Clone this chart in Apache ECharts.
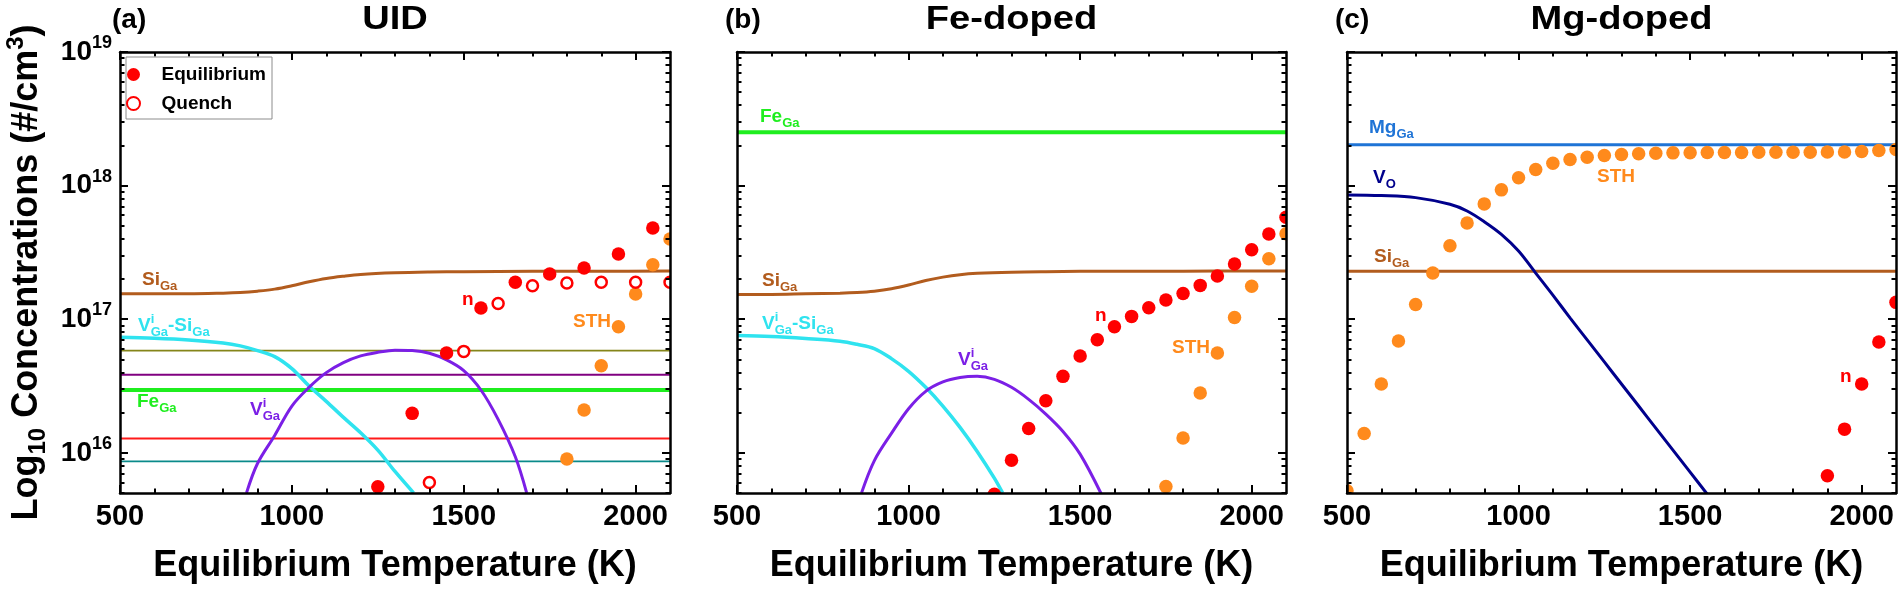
<!DOCTYPE html>
<html>
<head>
<meta charset="utf-8">
<script src="https://cdn.jsdelivr.net/npm/echarts@6/dist/echarts.min.js"></script>
<style>
  html, body { margin: 0; padding: 0; background: #fff; }
  #main { width: 1900px; height: 592px; }
</style>
</head>
<body>
<div id="main"></div>
<script>
// ---- data (y values are log10 of concentration in #/cm3) ----
// temperature grids (K)
const siGaT = [500, 600, 700, 800, 850, 900, 950, 1000, 1050, 1100, 1150, 1200, 1300, 1400, 1500, 1700, 1900, 2100];

// (a) UID
const siGaA = [17.19, 17.19, 17.19, 17.195, 17.2, 17.21, 17.225, 17.25, 17.28, 17.305, 17.322, 17.335, 17.347, 17.353, 17.356, 17.358, 17.359, 17.36];
const vSiTA = [500, 600, 700, 800, 850, 900, 950, 1000, 1050, 1100, 1150, 1200, 1250, 1300, 1354];
const vSiA = [16.865, 16.858, 16.845, 16.822, 16.8, 16.765, 16.72, 16.63, 16.5, 16.385, 16.265, 16.15, 16.02, 15.86, 15.7];
const vGaTA = [868, 900, 950, 1000, 1050, 1100, 1150, 1200, 1250, 1300, 1350, 1400, 1450, 1500, 1550, 1600, 1650, 1683];
const vGaA = [15.7, 15.92, 16.13, 16.35, 16.49, 16.6, 16.675, 16.725, 16.752, 16.768, 16.765, 16.745, 16.695, 16.615, 16.47, 16.25, 15.97, 15.7];
const eqTA = [1250, 1350, 1450, 1550, 1650, 1750, 1850, 1950, 2050];
const eqA = [15.745, 16.295, 16.747, 17.084, 17.276, 17.338, 17.383, 17.488, 17.683];
const quTA = [1400, 1500, 1600, 1700, 1800, 1900, 2000, 2100];
const quA = [15.778, 16.759, 17.118, 17.251, 17.271, 17.276, 17.276, 17.276];
const sthTA = [1800, 1850, 1900, 1950, 2000, 2050, 2100];
const sthA = [15.953, 16.32, 16.652, 16.944, 17.189, 17.408, 17.6];
const levelNamesA = ['Ir', 'Cr', 'Fe', 'Ca', 'Zr'];
const levelsA = [16.764, 16.584, 16.47, 16.107, 15.935];

// (b) Fe-doped
const feB = 18.4;
const siGaB = [17.185, 17.185, 17.19, 17.195, 17.2, 17.21, 17.228, 17.256, 17.29, 17.315, 17.333, 17.343, 17.352, 17.356, 17.358, 17.359, 17.36, 17.36];
const vSiTB = [500, 600, 700, 800, 850, 900, 950, 1000, 1050, 1100, 1150, 1200, 1250, 1274];
const vSiB = [16.877, 16.87, 16.855, 16.835, 16.812, 16.78, 16.705, 16.61, 16.49, 16.35, 16.19, 16.01, 15.81, 15.7];
const vGaTB = [863, 900, 950, 1000, 1050, 1100, 1150, 1200, 1250, 1300, 1350, 1400, 1450, 1500, 1561];
const vGaB = [15.7, 15.94, 16.145, 16.33, 16.46, 16.53, 16.563, 16.572, 16.55, 16.49, 16.4, 16.29, 16.16, 15.99, 15.695];
const nTB = [1250, 1300, 1350, 1400, 1450, 1500, 1550, 1600, 1650, 1700, 1750, 1800, 1850, 1900, 1950, 2000, 2050, 2100];
const nB = [15.69, 15.945, 16.182, 16.39, 16.572, 16.724, 16.846, 16.944, 17.021, 17.086, 17.144, 17.193, 17.253, 17.323, 17.413, 17.52, 17.638, 17.763];
const sthTB = [1750, 1800, 1850, 1900, 1950, 2000, 2050, 2100];
const sthB = [15.748, 16.11, 16.447, 16.747, 17.013, 17.246, 17.453, 17.64];

// (c) Mg-doped
const mgC = 18.305;
const siC = 17.358;
const vOT = [500, 600, 700, 800, 850, 900, 950, 1000, 1050, 1100, 1150, 1200, 1250, 1300, 1350, 1400, 1450, 1500, 1550];
const vOC = [17.93, 17.925, 17.91, 17.86, 17.81, 17.73, 17.635, 17.51, 17.345, 17.18, 17.01, 16.845, 16.68, 16.515, 16.35, 16.185, 16.02, 15.855, 15.69];
const sthTC = [500, 550, 600, 650, 700, 750, 800, 850, 900, 950, 1000, 1050, 1100, 1150, 1200, 1250, 1300, 1350, 1400, 1450, 1500, 1550, 1600, 1650, 1700, 1750, 1800, 1850, 1900, 1950, 2000, 2050, 2100];
const sthC = [15.715, 16.145, 16.515, 16.837, 17.11, 17.346, 17.55, 17.72, 17.863, 17.968, 18.058, 18.12, 18.167, 18.195, 18.212, 18.225, 18.232, 18.238, 18.242, 18.245, 18.246, 18.247, 18.248, 18.248, 18.249, 18.249, 18.25, 18.25, 18.251, 18.252, 18.255, 18.262, 18.27];
const nTC = [1900, 1950, 2000, 2050, 2100];
const nC = [15.828, 16.177, 16.515, 16.83, 17.126];

// axis ticks
const xMajor = [500, 1000, 1500, 2000];
const xMinor = [600, 700, 800, 900, 1100, 1200, 1300, 1400, 1600, 1700, 1800, 1900];
const yMajor = [16, 17, 18, 19];
const yMinor = [];
[15, 16, 17, 18].forEach(function (e) {
  [2, 3, 4, 5, 6, 7, 8, 9].forEach(function (k) { yMinor.push(e + Math.log10(k)); });
});
const yMin = Math.log10(5e15), yMax = 19;

// ---- styling ----
const FONT = '"Liberation Sans", Arial, sans-serif';
const C = {
  si: '#B25C1E', cyan: '#2FE3EF', vga: '#7B1FE6', fe: '#1FEE1F', ir: '#85851A',
  cr: '#800080', ca: '#FF1A1A', zr: '#0A8A8A', mg: '#1F74D6', vo: '#00008C',
  sth: '#FF8A1C', n: '#FF0000'
};
const grids = [
  { left: 120, top: 52, width: 550, height: 441 },
  { left: 737, top: 52, width: 549, height: 441 },
  { left: 1347, top: 52, width: 549, height: 441 }
];

const frameLine = { show: true, onZero: false, lineStyle: { color: '#000', width: 2.5 } };
const tickLine = { color: '#000', width: 2 };

function xAxesFor(g) {
  const base = { gridIndex: g, type: 'value', min: 500, max: 2100, z: 5, splitLine: { show: false } };
  return [
    Object.assign({}, base, {
      position: 'bottom', axisLine: frameLine,
      axisTick: { inside: true, length: 8, customValues: xMajor, lineStyle: tickLine },
      axisLabel: {
        customValues: xMajor, margin: 9, fontSize: 29, fontWeight: 'bold', fontFamily: FONT, color: '#000',
        formatter: function (v) { return String(Math.round(v)); }
      },
      name: 'Equilibrium Temperature (K)', nameLocation: 'middle', nameGap: 55,
      nameTextStyle: { fontSize: 36, fontWeight: 'bold', fontFamily: FONT, color: '#000' }
    }),
    Object.assign({}, base, {
      position: 'bottom', axisLine: { show: false, onZero: false },
      axisTick: { inside: true, length: 4.5, customValues: xMinor, lineStyle: tickLine },
      axisLabel: { show: false }
    }),
    Object.assign({}, base, {
      position: 'top', axisLine: frameLine,
      axisTick: { inside: true, length: 8, customValues: xMajor, lineStyle: tickLine },
      axisLabel: { show: false }
    }),
    Object.assign({}, base, {
      position: 'top', axisLine: { show: false, onZero: false },
      axisTick: { inside: true, length: 4.5, customValues: xMinor, lineStyle: tickLine },
      axisLabel: { show: false }
    })
  ];
}

function yAxesFor(g) {
  const base = { gridIndex: g, type: 'value', min: yMin, max: yMax, z: 5, splitLine: { show: false } };
  const major = Object.assign({}, base, {
    position: 'left', axisLine: frameLine,
    axisTick: { inside: true, length: 8, customValues: yMajor, lineStyle: tickLine },
    axisLabel: { show: false }
  });
  if (g === 0) {
    major.axisLabel = {
      customValues: yMajor, margin: 8, color: '#000',
      formatter: function (v) { return '{b|10}{s|' + Math.round(v) + '}'; },
      rich: {
        b: { fontSize: 28, fontWeight: 'bold', fontFamily: FONT, color: '#000', lineHeight: 36 },
        s: { fontSize: 18, fontWeight: 'bold', fontFamily: FONT, color: '#000', verticalAlign: 'top' }
      }
    };
    major.name = '{a|Log}{b|10}{a| Concentrations (#/cm}{c|3}{a|)}';
    major.nameLocation = 'middle';
    major.nameGap = 70;
    major.nameTextStyle = {
      fontSize: 36, fontWeight: 'bold', fontFamily: FONT, color: '#000',
      rich: {
        a: { fontSize: 36, fontWeight: 'bold', fontFamily: FONT, color: '#000', lineHeight: 46 },
        b: { fontSize: 24, fontWeight: 'bold', fontFamily: FONT, color: '#000', verticalAlign: 'bottom' },
        c: { fontSize: 24, fontWeight: 'bold', fontFamily: FONT, color: '#000', verticalAlign: 'top' }
      }
    };
  }
  return [
    major,
    Object.assign({}, base, {
      position: 'left', axisLine: { show: false, onZero: false },
      axisTick: { inside: true, length: 4.5, customValues: yMinor, lineStyle: tickLine },
      axisLabel: { show: false }
    }),
    Object.assign({}, base, {
      position: 'right', axisLine: frameLine,
      axisTick: { inside: true, length: 8, customValues: yMajor, lineStyle: tickLine },
      axisLabel: { show: false }
    }),
    Object.assign({}, base, {
      position: 'right', axisLine: { show: false, onZero: false },
      axisTick: { inside: true, length: 4.5, customValues: yMinor, lineStyle: tickLine },
      axisLabel: { show: false }
    })
  ];
}

function zip(xs, ys) { return xs.map(function (x, i) { return [x, ys[i]]; }); }

function curve(g, name, xs, ys, color, width) {
  return {
    type: 'line', name: name, xAxisIndex: 4 * g, yAxisIndex: 4 * g,
    data: zip(xs, ys), smooth: 0.35, showSymbol: false, symbol: 'none',
    lineStyle: { color: color, width: width }, itemStyle: { color: color }, z: 2
  };
}
function level(g, name, v, color, width) {
  return curve(g, name, [500, 2100], [v, v], color, width);
}
function dots(g, name, xs, ys, color, hollow) {
  return {
    type: 'scatter', name: name, xAxisIndex: 4 * g, yAxisIndex: 4 * g, clip: false,
    data: zip(xs, ys), symbol: 'circle', symbolSize: hollow ? 11 : 13.5,
    itemStyle: hollow
      ? { color: '#fff', borderColor: color, borderWidth: 2.5, opacity: 1 }
      : { color: color, opacity: 1 },
    z: 3
  };
}

const levelColorsA = [C.ir, C.cr, C.fe, C.ca, C.zr];
const levelWidthsA = [1.8, 1.8, 4, 1.8, 1.8];

const series = [];
// (a)
levelNamesA.forEach(function (nm, i) { series.push(level(0, nm + 'Ga', levelsA[i], levelColorsA[i], levelWidthsA[i])); });
series.push(curve(0, 'SiGa a', siGaT, siGaA, C.si, 3));
series.push(curve(0, 'VGa-SiGa a', vSiTA, vSiA, C.cyan, 3.5));
series.push(curve(0, 'VGa a', vGaTA, vGaA, C.vga, 3));
series.push(dots(0, 'STH a', sthTA, sthA, C.sth, false));
series.push(dots(0, 'Quench', quTA, quA, C.n, true));
series.push(dots(0, 'Equilibrium', eqTA, eqA, C.n, false));
// (b)
series.push(level(1, 'FeGa b', feB, C.fe, 4));
series.push(curve(1, 'SiGa b', siGaT, siGaB, C.si, 3));
series.push(curve(1, 'VGa-SiGa b', vSiTB, vSiB, C.cyan, 3.5));
series.push(curve(1, 'VGa b', vGaTB, vGaB, C.vga, 3));
series.push(dots(1, 'STH b', sthTB, sthB, C.sth, false));
series.push(dots(1, 'n b', nTB, nB, C.n, false));
// (c)
series.push(level(2, 'MgGa c', mgC, C.mg, 3));
series.push(level(2, 'SiGa c', siC, C.si, 3));
series.push(curve(2, 'VO c', vOT, vOC, C.vo, 3));
series.push(dots(2, 'STH c', sthTC, sthC, C.sth, false));
series.push(dots(2, 'n c', nTC, nC, C.n, false));

// ---- text helpers ----
const mctx = document.createElement('canvas').getContext('2d');
function textWidth(t, fs) {
  mctx.font = 'bold ' + fs + 'px ' + FONT;
  return mctx.measureText(t).width;
}
function piece(dx, dy, t, fs, color) {
  return {
    type: 'text', x: dx, y: dy,
    style: {
      text: t, fill: color, font: 'bold ' + fs + 'px ' + FONT,
      align: 'left', verticalAlign: 'middle', textAlign: 'left', textVerticalAlign: 'middle'
    }
  };
}
// markup: "V^{i}_{Ga}-Si_{Ga}"
function tag(x, y, markup, color, fs) {
  fs = fs || 19;
  const sfs = Math.round(fs * 0.68);
  const toks = markup.match(/\^\{[^}]*\}|_\{[^}]*\}|[^_^]+/g);
  const kids = [];
  let cx = 0;
  for (let i = 0; i < toks.length; i++) {
    const t = toks[i];
    if (t[0] === '^') {
      const sup = t.slice(2, -1);
      kids.push(piece(cx, -fs * 0.36, sup, sfs, color));
      let w = textWidth(sup, sfs);
      if (toks[i + 1] && toks[i + 1][0] === '_') {
        const sub = toks[i + 1].slice(2, -1);
        kids.push(piece(cx, fs * 0.34, sub, sfs, color));
        w = Math.max(w, textWidth(sub, sfs));
        i++;
      }
      cx += w;
    } else if (t[0] === '_') {
      const sub = t.slice(2, -1);
      kids.push(piece(cx, fs * 0.34, sub, sfs, color));
      cx += textWidth(sub, sfs);
    } else {
      kids.push(piece(cx, 0, t, fs, color));
      cx += textWidth(t, fs);
    }
  }
  return { type: 'group', x: x, y: y, z: 10, children: kids };
}
function title(x, y, t, fs, align, sx) {
  return {
    type: 'text', x: x, y: y, z: 10, scaleX: sx || 1,
    style: {
      text: t, fill: '#000', font: 'bold ' + fs + 'px ' + FONT,
      align: align, verticalAlign: 'middle', textAlign: align, textVerticalAlign: 'middle'
    }
  };
}

// white masks outside the frames so dots are cut at the frame
const masks = [
  [0, 0, 1900, 52], [0, 493, 1900, 99],
  [0, 52, 120, 441], [670, 52, 67, 441], [1286, 52, 61, 441], [1896, 52, 4, 441]
].map(function (r) {
  return { type: 'rect', z: 3.5, silent: true, shape: { x: r[0], y: r[1], width: r[2], height: r[3] }, style: { fill: '#fff' } };
});

const graphics = masks.concat([
  title(112, 20, '(a)', 28, 'left'),
  title(395, 20, 'UID', 34, 'center', 1.12),
  title(725, 20, '(b)', 28, 'left'),
  title(1011.5, 20, 'Fe-doped', 34, 'center', 1.12),
  title(1335, 20, '(c)', 28, 'left'),
  title(1621.5, 20, 'Mg-doped', 34, 'center', 1.12),
  // (a)
  tag(142, 280, 'Si_{Ga}', C.si),
  tag(138, 326, 'V^{i}_{Ga}-Si_{Ga}', C.cyan),
  tag(137, 402, 'Fe_{Ga}', C.fe),
  tag(250, 410, 'V^{i}_{Ga}', C.vga),
  tag(462, 300, 'n', C.n),
  tag(573, 322, 'STH', C.sth),
  tag(674, 347, 'Ir_{Ga}', C.ir),
  tag(674, 370, 'Cr_{Ga}', C.cr),
  tag(674, 435, 'Ca_{Ga}', C.ca),
  tag(674, 458, 'Zr_{Ga}', C.zr),
  // (b)
  tag(760, 117, 'Fe_{Ga}', C.fe),
  tag(762, 281, 'Si_{Ga}', C.si),
  tag(762, 324, 'V^{i}_{Ga}-Si_{Ga}', C.cyan),
  tag(958, 360, 'V^{i}_{Ga}', C.vga),
  tag(1095, 316, 'n', C.n),
  tag(1172, 348, 'STH', C.sth),
  // (c)
  tag(1369, 128, 'Mg_{Ga}', C.mg),
  tag(1373, 178, 'V_{O}', C.vo),
  tag(1374, 257, 'Si_{Ga}', C.si),
  tag(1597, 177, 'STH', C.sth),
  tag(1840, 377, 'n', C.n)
]);

const chart = echarts.init(document.getElementById('main'));
const option = {
  animation: false,
  backgroundColor: '#fff',
  grid: grids,
  xAxis: [].concat(xAxesFor(0), xAxesFor(1), xAxesFor(2)),
  yAxis: [].concat(yAxesFor(0), yAxesFor(1), yAxesFor(2)),
  legend: {
    data: ['Equilibrium', 'Quench'], orient: 'vertical', left: 126, top: 57,
    itemWidth: 46, itemHeight: 13, itemGap: 10, padding: [8, 6, 6, 0],
    borderColor: '#8c8c8c', borderWidth: 1, backgroundColor: '#fff',
    textStyle: { fontSize: 19, fontWeight: 'bold', fontFamily: FONT, color: '#000' },
    selectedMode: false, z: 6
  },
  graphic: graphics,
  series: series
};
chart.setOption(option);
</script>
</body>
</html>
